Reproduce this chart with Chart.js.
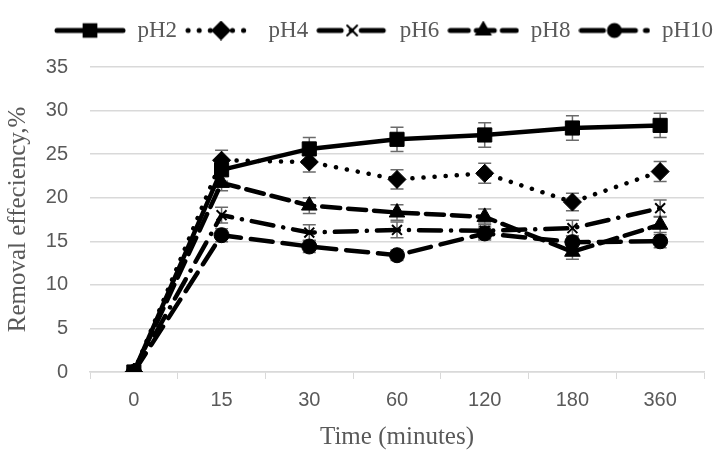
<!DOCTYPE html>
<html>
<head>
<meta charset="utf-8">
<script src="https://cdn.jsdelivr.net/npm/chart.js@4.4.1/dist/chart.umd.min.js"></script>
<style>
  html, body { margin: 0; padding: 0; background: #fff; }
  #wrap { width: 715px; height: 450px; }
</style>
</head>
<body>
<div id="wrap"><canvas id="line-chart"></canvas></div>
<script>
// 데이터
const timeLabels = ['0', '15', '30', '60', '120', '180', '360'];
const ph2 = [0, 23.2, 25.6, 26.7, 27.2, 28.0, 28.3];
const ph4 = [0, 24.3, 24.1, 22.1, 22.8, 19.5, 23.0];
const ph6 = [0, 18.0, 16.0, 16.3, 16.2, 16.5, 18.8];
const ph8 = [0, 21.7, 19.1, 18.3, 17.8, 13.8, 16.9];
const ph10 = [0, 15.7, 14.4, 13.4, 15.9, 14.9, 15.0];

// 오차 막대
const err2 = [0, 1.3, 1.3, 1.4, 1.4, 1.4, 1.4];
const err4 = [0, 1.15, 1.15, 1.1, 1.15, 1.0, 1.15];
const err6 = [0, 0.9, 0.9, 0.9, 0.9, 0.9, 0.95];
const err8 = [0, 0.9, 0.9, 0.9, 0.9, 0.85, 0.9];
const err10 = [0, 0.75, 0.7, 0.6, 0.75, 0.7, 0.75];

const gray = '#595959';

// 범례용 선+마커 그림
function legendIcon(dash, style, radius) {
    const c = document.createElement('canvas');
    c.width = 72; c.height = 20;
    const g = c.getContext('2d');
    g.strokeStyle = '#000';
    g.lineWidth = 5;
    g.lineCap = 'round';
    g.setLineDash(dash);
    g.beginPath();
    g.moveTo(3, 10); g.lineTo(69, 10);
    g.stroke();
    g.setLineDash([]);
    g.fillStyle = '#000';
    g.strokeStyle = '#000';
    g.lineWidth = 2;
    Chart.helpers.drawPoint(g, { pointStyle: style, radius: radius, borderWidth: 2 }, 36, 10);
    return c;
}

// 범례 아래 여백, 오른쪽으로 조금 이동
const legendGap = {
    id: 'legendGap',
    beforeInit(chart) {
        const fit = chart.legend.fit;
        chart.legend.fit = function () {
            fit.bind(chart.legend)();
            this.height += 15;
        };
    },
    afterLayout(chart) {
        chart.legend.right += 16;
    }
};

const errorBars = {
    id: 'errorBars',
    beforeDatasetsDraw(chart) {
        const ctx = chart.ctx;
        const y = chart.scales.y;
        ctx.save();
        ctx.strokeStyle = '#6b6b6b';
        ctx.lineWidth = 1.5;
        chart.data.datasets.forEach((ds, i) => {
            const meta = chart.getDatasetMeta(i);
            meta.data.forEach((pt, j) => {
                const e = ds.errors[j];
                if (!e) return;
                const top = y.getPixelForValue(ds.data[j] + e);
                const bot = y.getPixelForValue(ds.data[j] - e);
                ctx.beginPath();
                ctx.moveTo(pt.x, top); ctx.lineTo(pt.x, bot);
                ctx.moveTo(pt.x - 6.5, top); ctx.lineTo(pt.x + 6.5, top);
                ctx.moveTo(pt.x - 6.5, bot); ctx.lineTo(pt.x + 6.5, bot);
                ctx.stroke();
            });
        });
        ctx.restore();
    }
};

function series(label, data, errors, dash, style, radius, iconRadius) {
    return {
        label: label,
        data: data,
        errors: errors,
        borderColor: '#000',
        backgroundColor: '#000',
        borderWidth: 4.5,
        borderDash: dash,
        borderCapStyle: 'round',
        pointStyle: style,
        pointRadius: radius,
        pointBorderWidth: style === 'crossRot' ? 2 : 1,
        pointBorderColor: '#000',
        pointBackgroundColor: '#000',
        tension: 0,
        fill: false,
        icon: legendIcon(dash, style, iconRadius)
    };
}

const datasets = [
    series('pH2', ph2, err2, [], 'rect', 10, 9),
    series('pH4', ph4, err4, [0.1, 11], 'rectRot', 9, 8.5),
    series('pH6', ph6, err6, [22, 10, 0.1, 10], 'crossRot', 7, 7),
    series('pH8', ph8, err8, [18, 8], 'triangle', 9, 8),
    series('pH10', ph10, err10, [22, 10], 'circle', 7.5, 6.5)
];

const ctx = document.getElementById('line-chart').getContext('2d');
const myChart = new Chart(ctx, {
    type: 'line',
    data: { labels: timeLabels, datasets: datasets },
    plugins: [errorBars, legendGap],
    options: {
        responsive: true,
        maintainAspectRatio: false,
        animation: false,
        layout: { padding: { top: 11, right: 10, left: 0, bottom: 0 } },
        plugins: {
            legend: {
                position: 'top',
                align: 'end',
                labels: {
                    usePointStyle: true,
                    pointStyleWidth: 72,
                    boxHeight: 20,
                    padding: 8,
                    color: gray,
                    font: { family: 'Liberation Serif', size: 23 },
                    generateLabels(chart) {
                        return chart.data.datasets.map((ds, i) => ({
                            text: ds.label,
                            pointStyle: ds.icon,
                            fontColor: gray,
                            lineWidth: 0,
                            datasetIndex: i
                        }));
                    }
                }
            },
            tooltip: { enabled: false }
        },
        scales: {
            x: {
                offset: true,
                grid: {
                    offset: true,
                    drawOnChartArea: false,
                    drawTicks: true,
                    tickLength: 7,
                    color: '#d9d9d9'
                },
                border: { color: '#d9d9d9', width: 1.5 },
                ticks: { color: gray, font: { family: 'Liberation Sans', size: 20 }, padding: 9 },
                title: {
                    display: true,
                    text: 'Time (minutes)',
                    color: gray,
                    font: { family: 'Liberation Serif', size: 25, lineHeight: 1 },
                    padding: { top: 2, bottom: 0 }
                },
                afterFit(scale) { scale.height = 78; }
            },
            y: {
                min: 0,
                max: 35,
                ticks: { stepSize: 5, color: gray, font: { family: 'Liberation Sans', size: 20 }, padding: 22 },
                grid: { color: '#d9d9d9', lineWidth: 1.5, drawTicks: false },
                border: { display: false },
                title: {
                    display: true,
                    text: 'Removal effeciency,%',
                    color: gray,
                    font: { family: 'Liberation Serif', size: 25, lineHeight: 1 },
                    padding: { top: 6, bottom: 0 }
                },
                afterFit(scale) { scale.width = 90; }
            }
        }
    }
});
</script>
</body>
</html>
